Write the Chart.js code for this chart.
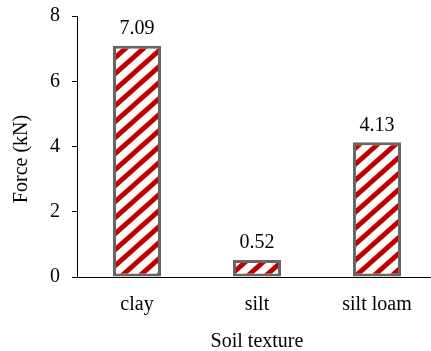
<!DOCTYPE html>
<html>
<head>
<meta charset="utf-8">
<script src="https://cdn.jsdelivr.net/npm/chart.js@4.4.0/dist/chart.umd.min.js"></script>
<style>
    html, body { margin: 0; padding: 0; background: #fff; overflow: hidden; }
    #wrap { width: 440px; height: 351px; }
</style>
</head>
<body>
<div id="wrap"><canvas id="forceChart"></canvas></div>
<script>
const categories = ['clay', 'silt', 'silt loam'];
const forceValues = [7.09, 0.52, 4.13];
const yTicks = [0, 2, 4, 6, 8];

const serif = "'Liberation Serif', 'Times New Roman', serif";

// red / white upward diagonal hatch
function makeHatch() {
    const w = 18, h = 16;
    const tile = document.createElement('canvas');
    tile.width = w;
    tile.height = h;
    const c = tile.getContext('2d');
    c.fillStyle = '#ffffff';
    c.fillRect(0, 0, w, h);
    c.strokeStyle = '#c00000';
    c.lineWidth = 5;
    for (let k = -1; k <= 1; k++) {
        // extend each line past the tile so the ends don't leave gaps
        c.beginPath();
        c.moveTo(k * w - w, 2 * h);
        c.lineTo(k * w + 2 * w, -h);
        c.stroke();
    }
    return document.getElementById('forceChart').getContext('2d').createPattern(tile, 'repeat');
}

const valueLabels = {
    id: 'valueLabels',
    afterDatasetsDraw(chart) {
        const ctx = chart.ctx;
        const meta = chart.getDatasetMeta(0);
        ctx.save();
        ctx.font = '20px ' + serif;
        ctx.fillStyle = '#000';
        ctx.textAlign = 'center';
        ctx.textBaseline = 'middle';
        meta.data.forEach((bar, i) => {
            ctx.fillText(forceValues[i].toFixed(2), bar.x, bar.y - 17);
        });
        ctx.restore();
    }
};

const forceChart = new Chart(document.getElementById('forceChart'), {
    type: 'bar',
    data: {
        labels: categories,
        datasets: [{
            label: 'Force (kN)',
            data: forceValues,
            backgroundColor: makeHatch(),
            borderColor: '#666666',
            borderWidth: 3,
            borderSkipped: false,
            barPercentage: 0.4,
            categoryPercentage: 1.0
        }]
    },
    options: {
        responsive: true,
        maintainAspectRatio: false,
        animation: false,
        layout: { padding: { top: 16, right: 3, left: 0, bottom: 0 } },
        plugins: {
            legend: { display: false },
            tooltip: { enabled: false }
        },
        scales: {
            x: {
                grid: { display: false, drawTicks: false },
                border: { display: true, color: '#000', width: 1 },
                ticks: {
                    color: '#000',
                    padding: 16,
                    font: { family: serif, size: 20 }
                },
                title: {
                    display: true,
                    text: 'Soil texture',
                    color: '#000',
                    padding: { top: 0, bottom: -3 },
                    font: { family: serif, size: 20 }
                },
                afterFit(scale) {
                    scale.height = 74;
                    scale.paddingLeft = 0;
                    scale.paddingRight = 0;
                }
            },
            y: {
                min: 0,
                max: 8,
                grid: { display: true, drawOnChartArea: false, drawTicks: true, tickLength: 5, color: '#000' },
                border: { display: true, color: '#000', width: 1 },
                afterBuildTicks(scale) { scale.ticks = yTicks.map(v => ({ value: v })); },
                ticks: {
                    color: '#000',
                    padding: 12,
                    font: { family: serif, size: 20 }
                },
                title: {
                    display: true,
                    text: 'Force (kN)     ',
                    color: '#000',
                    padding: { top: 10, bottom: 0 },
                    font: { family: serif, size: 20 }
                },
                afterFit(scale) {
                    scale.width = 77;
                    scale.paddingTop = 0;
                    scale.paddingBottom = 0;
                }
            }
        }
    },
    plugins: [valueLabels]
});
</script>
</body>
</html>
